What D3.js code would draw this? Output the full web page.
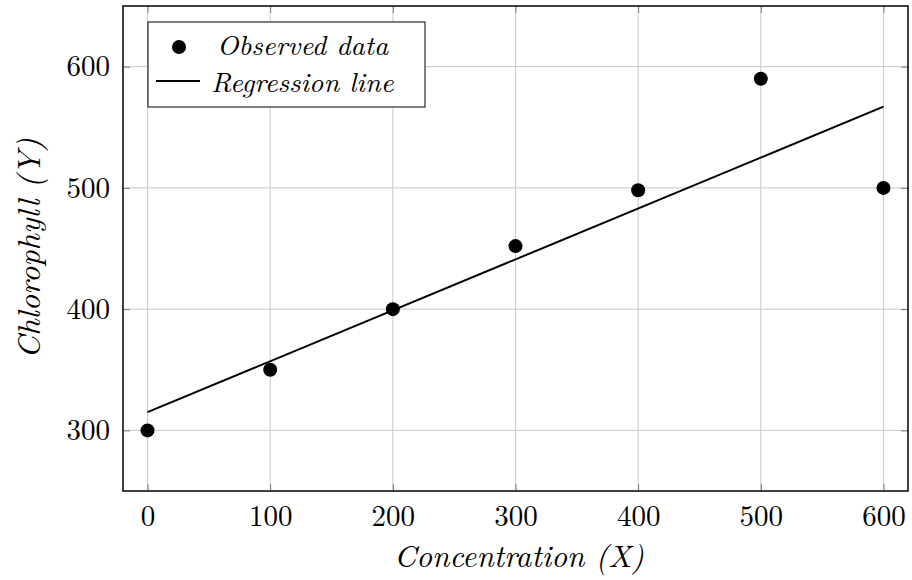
<!DOCTYPE html>
<html>
<head>
<meta charset="utf-8">
<script src="https://cdn.jsdelivr.net/npm/d3@7"></script>
<style>
  body { margin: 0; background: #fff; }
  svg text { font-family: "Latin Modern Roman", "CMU Serif", "Liberation Serif", serif; fill: #000; }
  .grid line { stroke: #c8c8c8; stroke-width: 1; }
</style>
</head>
<body>
<div id="chart"></div>
<script>
(function(){

  //observed data
  var concentration = [0, 100, 200, 300, 400, 500, 600];
  var chlorophyll = [300, 350, 400, 452, 498, 590, 500];

  //regression line end points
  var lineX = [0, 600];
  var lineY = [315, 567];

  //tick labels
  var xTicks = [0, 100, 200, 300, 400, 500, 600];
  var yTicks = [300, 400, 500, 600];

  var width = 912, height = 580;
  var left = 123, right = 908, top = 6, bottom = 491;

  var svg = d3.select("#chart").append("svg")
      .attr("width", width)
      .attr("height", height);

  var x = d3.scaleLinear().domain([-20, 620]).range([left, right]);
  var y = d3.scaleLinear().domain([250, 650]).range([bottom, top]);

  //grid
  var grid = svg.append("g").attr("class", "grid");
  grid.selectAll(".gx").data(xTicks).enter().append("line")
      .attr("x1", function(d){ return x(d); })
      .attr("x2", function(d){ return x(d); })
      .attr("y1", top).attr("y2", bottom);
  grid.selectAll(".gy").data(yTicks).enter().append("line")
      .attr("y1", function(d){ return y(d); })
      .attr("y2", function(d){ return y(d); })
      .attr("x1", left).attr("x2", right);

  //axes (ticks inside, pgfplots style)
  var tickLen = 7;
  var xAxis = svg.append("g")
      .attr("transform", "translate(0," + bottom + ")")
      .call(d3.axisBottom(x).tickValues(xTicks).tickSize(-tickLen).tickPadding(13));
  var xAxisTop = svg.append("g")
      .attr("transform", "translate(0," + top + ")")
      .call(d3.axisTop(x).tickValues(xTicks).tickSize(-tickLen).tickFormat(""));
  var yAxis = svg.append("g")
      .attr("transform", "translate(" + left + ",0)")
      .call(d3.axisLeft(y).tickValues(yTicks).tickSize(-tickLen).tickPadding(13));
  var yAxisRight = svg.append("g")
      .attr("transform", "translate(" + right + ",0)")
      .call(d3.axisRight(y).tickValues(yTicks).tickSize(-tickLen).tickFormat(""));

  [xAxis, xAxisTop, yAxis, yAxisRight].forEach(function(a){
    a.select(".domain").remove();
    a.selectAll(".tick line").attr("stroke", "#7a7a7a");
    a.selectAll("text").style("font-size", "29px").attr("fill", "#000");
  });
  xAxis.selectAll("text").attr("dy", "0.75em");

  //frame
  svg.append("rect")
      .attr("x", left).attr("y", top)
      .attr("width", right - left).attr("height", bottom - top)
      .attr("fill", "none").attr("stroke", "#000").attr("stroke-width", 1.5);

  //regression line
  var line = d3.line()
      .x(function(d){ return x(d[0]); })
      .y(function(d){ return y(d[1]); });
  svg.append("path")
      .datum(d3.zip(lineX, lineY))
      .attr("d", line)
      .attr("fill", "none")
      .attr("stroke", "#000")
      .attr("stroke-width", 2);

  //observed points
  svg.selectAll(".dot")
      .data(d3.zip(concentration, chlorophyll))
      .enter().append("circle")
      .attr("class", "dot")
      .attr("cx", function(d){ return x(d[0]); })
      .attr("cy", function(d){ return y(d[1]); })
      .attr("r", 7)
      .attr("fill", "#000");

  //axis labels
  svg.append("text")
      .attr("x", 519)
      .attr("y", 567)
      .attr("text-anchor", "middle")
      .style("font-size", "31px")
      .style("font-style", "italic")
      .text("Concentration (X)");

  svg.append("text")
      .attr("transform", "translate(40," + ((top + bottom) / 2) + ") rotate(-90)")
      .attr("text-anchor", "middle")
      .style("font-size", "32px")
      .style("font-style", "italic")
      .text("Chlorophyll (Y)");

  //legend
  var legend = svg.append("g");
  legend.append("rect")
      .attr("x", 148).attr("y", 22)
      .attr("width", 277).attr("height", 85)
      .attr("fill", "#fff").attr("stroke", "#000").attr("stroke-width", 1);
  legend.append("circle")
      .attr("cx", 179).attr("cy", 47).attr("r", 7).attr("fill", "#000");
  legend.append("line")
      .attr("x1", 156).attr("x2", 200).attr("y1", 81).attr("y2", 81)
      .attr("stroke", "#000").attr("stroke-width", 2);
  legend.append("text")
      .attr("x", 217).attr("y", 55)
      .style("font-size", "28px").style("font-style", "italic")
      .text("Observed data");
  legend.append("text")
      .attr("x", 211).attr("y", 92)
      .style("font-size", "28px").style("font-style", "italic")
      .text("Regression line");

})();
</script>
</body>
</html>
